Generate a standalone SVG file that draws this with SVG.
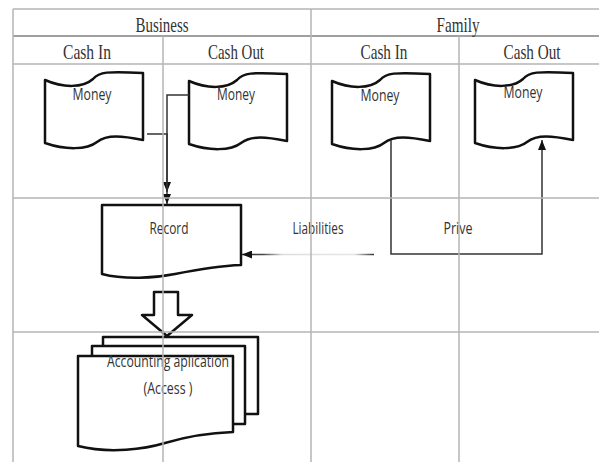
<svg xmlns="http://www.w3.org/2000/svg" width="599" height="462" viewBox="0 0 599 462">
<style>
.grid{stroke:#b4b4b4;stroke-width:1.5;fill:none}
.shape{fill:#fff;stroke:#111;stroke-width:2.5;stroke-linejoin:round}
.hdr{font-family:"Liberation Serif",serif;font-size:21px;fill:#333;text-anchor:middle}
.lbl{font-family:"Open Sans","Liberation Sans",sans-serif;font-size:15.5px;fill:#333;text-anchor:middle}
.conn{fill:none;stroke:#333;stroke-width:1.5}
</style>
<defs>
<marker id="ah" markerUnits="userSpaceOnUse" markerWidth="10" markerHeight="8" refX="10" refY="4" orient="auto">
<path d="M0,0 L10,4 L0,8 Z" fill="#111"/>
</marker>
<path id="tape" d="M0,10 C18,18 38,18 48,9 C54,2 62,1 98,3 V70 C78,66 62,64 52,72 C42,80 20,80 0,73 Z"/>
<linearGradient id="fade" gradientUnits="userSpaceOnUse" x1="243" y1="0" x2="374" y2="0">
<stop offset="0" stop-color="#333"/>
<stop offset="0.15" stop-color="#444"/>
<stop offset="0.3" stop-color="#ddd"/>
<stop offset="0.85" stop-color="#e6e6e6"/>
<stop offset="1" stop-color="#333"/>
</linearGradient>
</defs>
<rect width="599" height="462" fill="#fff"/>

<g id="money-business-in">
<use href="#tape" class="shape" transform="translate(45,70)"/>
<text class="lbl" x="92" y="100" textLength="39" lengthAdjust="spacingAndGlyphs">Money</text>
</g>
<g id="money-business-out">
<use href="#tape" class="shape" transform="translate(189,71)"/>
<text class="lbl" x="236" y="100" textLength="38" lengthAdjust="spacingAndGlyphs">Money</text>
</g>
<g id="money-family-in">
<use href="#tape" class="shape" transform="translate(332,71)"/>
<text class="lbl" x="380" y="101" textLength="39" lengthAdjust="spacingAndGlyphs">Money</text>
</g>
<g id="money-family-out">
<use href="#tape" class="shape" transform="translate(475,70)"/>
<text class="lbl" x="523" y="98" textLength="39" lengthAdjust="spacingAndGlyphs">Money</text>
</g>

<g id="record">
<path class="shape" d="M102,205 H241 V265 C215,266 195,270 175,274 C155,278 125,280 102,274 Z"/>
<text class="lbl" x="169" y="234" textLength="39" lengthAdjust="spacingAndGlyphs">Record</text>
</g>

<g id="block-arrow">
<polygon class="shape" points="154,292 178,292 178,315 192,315 167,336 142,315 154,315"/>
</g>

<g id="accounting">
<rect class="shape" x="103" y="337" width="155" height="77"/>
<rect class="shape" x="92" y="346" width="153" height="78"/>
<path class="shape" d="M78,356 H233 V432 C205,433 185,437 165,443 C145,449 110,454 78,446 Z"/>
<text class="lbl" x="168" y="367" textLength="122" lengthAdjust="spacingAndGlyphs">Accounting aplication</text>
<text class="lbl" x="168" y="394" textLength="49" lengthAdjust="spacingAndGlyphs">(Access )</text>
</g>

<g id="connectors">
<path class="conn" d="M147,134 H167 V192" marker-end="url(#ah)"/>
<path class="conn" d="M189,95 H167 V204" marker-end="url(#ah)"/>
<path class="conn" d="M391,140 V254 H542 V140" marker-end="url(#ah)"/>
<path d="M374,254.5 H242" fill="none" stroke="url(#fade)" stroke-width="1.5" marker-end="url(#ah)"/>
<text class="lbl" x="318" y="234" textLength="51" lengthAdjust="spacingAndGlyphs">Liabilities</text>
<text class="lbl" x="458" y="234" textLength="29" lengthAdjust="spacingAndGlyphs">Prive</text>
</g>

<g id="grid">
<line class="grid" x1="13" y1="9" x2="599" y2="9"/>
<line class="grid" x1="13" y1="36" x2="599" y2="36" style="stroke:#a0a0a0;stroke-width:2"/>
<line class="grid" x1="13" y1="64" x2="599" y2="64"/>
<line class="grid" x1="13" y1="198" x2="599" y2="198"/>
<line class="grid" x1="13" y1="332" x2="599" y2="332"/>
<line class="grid" x1="13" y1="9" x2="13" y2="462"/>
<line class="grid" x1="163" y1="36" x2="163" y2="462"/>
<line class="grid" x1="311" y1="9" x2="311" y2="462"/>
<line class="grid" x1="459" y1="36" x2="459" y2="462"/>
</g>

<g id="headers">
<text class="hdr" x="162" y="32" textLength="53" lengthAdjust="spacingAndGlyphs">Business</text>
<text class="hdr" x="458" y="32" textLength="43" lengthAdjust="spacingAndGlyphs">Family</text>
<text class="hdr" x="87" y="59" textLength="48" lengthAdjust="spacingAndGlyphs">Cash In</text>
<text class="hdr" x="236" y="59" textLength="56" lengthAdjust="spacingAndGlyphs">Cash Out</text>
<text class="hdr" x="384" y="59" textLength="47" lengthAdjust="spacingAndGlyphs">Cash In</text>
<text class="hdr" x="532" y="59" textLength="57" lengthAdjust="spacingAndGlyphs">Cash Out</text>
</g>
</svg>
